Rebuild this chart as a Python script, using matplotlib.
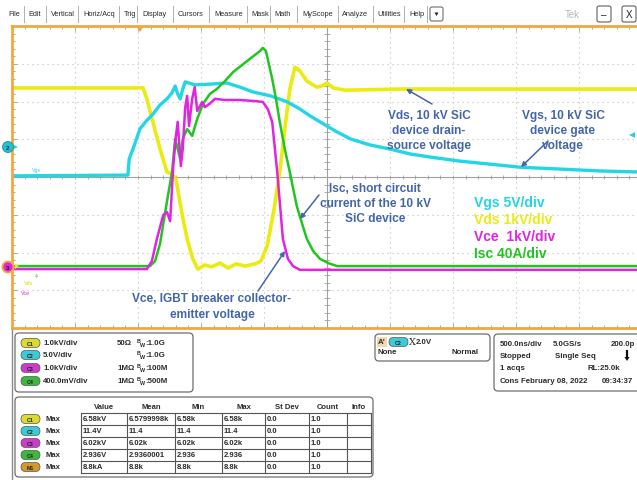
import matplotlib
matplotlib.use("Agg")
import numpy as np
import matplotlib.pyplot as plt
from matplotlib.patches import FancyBboxPatch, Circle, Polygon, Rectangle

plt.rcParams["font.family"] = ["Liberation Sans", "DejaVu Sans"]

# Waveforms in screen divisions: x 0..10 (500 ns/div), y -4..4
vds_x = [0.00, 2.08, 2.14, 2.35, 2.46, 2.54, 2.60, 2.70, 2.78, 2.87, 2.95, 3.06, 3.17,
         3.30, 3.43, 3.56, 3.70, 3.86, 3.95, 4.05, 4.16, 4.25, 4.35, 4.41, 4.49, 4.57,
         4.68, 4.84, 4.92, 5.00, 5.10, 5.29, 6.16, 10.0]
vds_y = [2.36, 2.36, 2.07, 0.74, 0.13, 0.08, -0.05, -0.98, -1.64, -2.17, -2.44, -2.33,
         -2.38, -2.28, -2.41, -2.30, -2.36, -2.30, -2.23, -1.83, -0.85, 0.13, 1.54, 2.33,
         2.91, 2.81, 2.54, 2.38, 2.41, 2.49, 2.36, 2.30, 2.33, 2.33]

vgs_x = [0.00, 1.84, 1.86, 1.92, 2.03, 2.13, 2.24, 2.35, 2.46, 2.54, 2.59, 2.63, 2.67,
         2.71, 2.75, 2.90, 3.14, 3.41, 3.62, 3.83, 4.10, 4.37, 4.57, 4.73, 4.89, 5.13,
         5.37, 5.68, 6.00, 6.32, 6.63, 7.11, 7.59, 8.06, 8.70, 9.33, 10.0]
vgs_y = [0.03, 0.05, 0.48, 0.74, 1.27, 1.48, 1.67, 1.91, 2.07, 2.23, 2.41, 2.20, 2.07,
         2.33, 2.52, 2.44, 2.46, 2.49, 2.38, 2.25, 2.15, 1.99, 1.80, 1.62, 1.46, 1.22,
         1.01, 0.85, 0.74, 0.61, 0.53, 0.42, 0.34, 0.26, 0.21, 0.16, 0.13]

vce_x = [0.00, 2.14, 2.22, 2.30, 2.40, 2.46, 2.51, 2.56, 2.60, 2.63, 2.68, 2.71, 2.75,
         2.78, 2.81, 2.86, 2.90, 2.94, 3.02, 3.06, 3.13, 3.22, 3.38, 3.62, 3.86, 3.98,
         4.06, 4.13, 4.21, 4.30, 4.38, 4.46, 4.57, 4.89, 10.0]
vce_y = [-2.44, -2.44, -2.23, -1.64, -1.01, -0.93, -1.17, 0.29, 1.06, 1.46, 0.29, 0.74,
         1.85, 2.15, 1.35, 2.07, 2.38, 1.75, 1.99, 1.85, 1.93, 2.07, 2.04, 2.04, 2.01,
         1.99, 1.80, 1.46, 0.13, -1.64, -2.17, -2.36, -2.46, -2.46, -2.46]

isc_x = [0.00, 2.19, 2.27, 2.35, 2.40, 2.48, 2.54, 2.59, 2.63, 2.67, 2.71, 2.78, 2.86,
         2.94, 3.03, 3.14, 3.25, 3.38, 3.51, 3.67, 3.83, 3.94, 3.98, 4.03, 4.13, 4.19,
         4.25, 4.33, 4.41, 4.52, 4.62, 4.68, 4.78, 4.89, 5.02, 5.16, 10.0]
isc_y = [-2.36, -2.36, -2.23, -1.77, -1.25, -0.45, 0.13, 1.01, 0.74, 0.48, 1.01, 1.27,
         1.09, 1.54, 1.93, 2.20, 2.33, 2.54, 2.78, 2.99, 3.20, 3.34, 3.42, 3.34, 2.60,
         2.07, 1.46, 0.74, 0.13, -0.77, -1.32, -1.64, -1.96, -2.17, -2.28, -2.36, -2.36]

legend_labels = ["Vgs 5V/div", "Vds 1kV/div", "Vce  1kV/div", "Isc 40A/div"]

menu_items = ["File", "Edit", "Vertical", "Horiz/Acq", "Trig", "Display", "Cursors",
              "Measure", "Mask", "Math", "MyScope", "Analyze", "Utilities", "Help"]

ch_names = ["C1", "C2", "C3", "C4"]
ch_scale = ["1.0kV/div", "5.0V/div", "1.0kV/div", "400.0mV/div"]
ch_imped = ["50Ω", "", "1MΩ", "1MΩ"]
ch_bw = ["1.0G", "1.0G", "100M", "500M"]

meas_src = ["C1", "C2", "C3", "C4", "M1"]
meas_cols = ["Value", "Mean", "Min", "Max", "St Dev", "Count", "Info"]
meas_value = ["6.58kV", "11.4V", "6.02kV", "2.936V", "8.8kA"]
meas_mean = ["6.5799998k", "11.4", "6.02k", "2.9360001", "8.8k"]
meas_min = ["6.58k", "11.4", "6.02k", "2.936", "8.8k"]
meas_max = ["6.58k", "11.4", "6.02k", "2.936", "8.8k"]
meas_std = ["0.0", "0.0", "0.0", "0.0", "0.0"]
meas_count = ["1.0", "1.0", "1.0", "1.0", "1.0"]

YEL = "#EBEB12"
CYA = "#22D6E6"
MAG = "#E024E0"
GRN = "#22C422"
ORG = "#F2A645"
NOTE = "#4466A8"
TXT = "#2b2b2b"
badge_col = {"C1": "#DADA30", "C2": "#3CCAD6", "C3": "#CC3CCC",
             "C4": "#3CB83C", "M1": "#D29A2A"}

fig = plt.figure(figsize=(6.37, 4.81), dpi=100)
fig.patch.set_facecolor("white")

# --- scope graticule ---
ax = fig.add_axes([12 / 637, (481 - 329) / 481, 630 / 637, 302 / 481])
ax.set_xlim(0, 10)
ax.set_ylim(-4, 4)
for s in ax.spines.values():
    s.set_color(ORG)
    s.set_linewidth(2)
ax.set_xticks(np.arange(0, 10.01, 1))
ax.set_yticks(np.arange(-4, 4.01, 1))
ax.set_xticks(np.arange(0, 10.01, 0.2), minor=True)
ax.set_yticks(np.arange(-4, 4.01, 0.2), minor=True)
ax.tick_params(which="both", direction="in", top=True, right=True,
               labelbottom=False, labelleft=False, color="#9a9a9a", width=0.6)
ax.tick_params(which="major", length=3.5)
ax.tick_params(which="minor", length=2)

for i in range(1, 10):
    if i != 5:
        ax.axvline(i, color="#bcbcbc", lw=0.8, ls=(0, (1, 3.5)))
for j in range(-3, 4):
    if j != 0:
        ax.axhline(j, color="#bcbcbc", lw=0.8, ls=(0, (1, 3.5)))
ax.axhline(0, color="#a0a0a0", lw=0.8)
ax.axvline(5, color="#a0a0a0", lw=0.8)
ax.vlines(np.arange(0, 10.01, 0.2), -0.06, 0.06, color="#a0a0a0", lw=0.6)
ax.hlines(np.arange(-4, 4.01, 0.2), 4.95, 5.05, color="#a0a0a0", lw=0.6)

ax.plot(vds_x, vds_y, color=YEL, lw=2.6, solid_joinstyle="round")
ax.plot(vgs_x, vgs_y, color=CYA, lw=2.4, solid_joinstyle="round")
ax.plot(isc_x, isc_y, color=GRN, lw=1.8, solid_joinstyle="round")
ax.plot(vce_x, vce_y, color=MAG, lw=1.8, solid_joinstyle="round")

# --- overlay in pixel coordinates for the UI and notes ---
ov = fig.add_axes([0, 0, 1, 1], zorder=5)
ov.set_xlim(0, 637)
ov.set_ylim(481, 0)
ov.axis("off")
ov.patch.set_alpha(0)

# menu bar
starts = [8, 28.5, 51, 83, 124, 142, 178, 214, 251, 274, 302, 342, 377, 409]
seps = [24, 46, 78, 119, 137, 173, 209, 247, 270, 297, 338, 373, 404, 427]
for name, x in zip(menu_items, starts):
    ov.text(x, 15, name, fontsize=5.3, color=TXT, va="center", ha="left")
for x in seps:
    ov.plot([x, x], [7, 23], color="#b0b0b0", lw=0.7)
ov.add_patch(FancyBboxPatch((430, 8), 13, 14, boxstyle="round,pad=0,rounding_size=2",
                            fc="white", ec="#707070", lw=0.8))
ov.add_patch(Polygon([(434.5, 13.5), (438.5, 13.5), (436.5, 17)], closed=True, fc="#222"))
ov.text(565, 15, "Tek", fontsize=7, color="#b8b8b8", va="center", ha="left")
for bx, sym in [(597, "–"), (622, "X")]:
    ov.add_patch(FancyBboxPatch((bx, 7), 14, 16, boxstyle="round,pad=0,rounding_size=2",
                                fc="white", ec="#606060", lw=0.8))
    ov.text(bx + 7, 15.5, sym, fontsize=7, color="#222", ha="center", va="center")

# trigger position and level markers
ov.add_patch(Polygon([(136, 27), (144, 27), (140, 33)], closed=True, fc=ORG))
ov.add_patch(Polygon([(629, 136), (635, 133), (635, 139)], closed=True, fc=CYA))

# channel ground markers on the left edge
ov.add_patch(Circle((8, 148), 5.5, fc="#2bbcd0", ec="#1a8fa0", lw=0.6))
ov.text(8, 148.5, "2", fontsize=4.5, color="#0d3a44", ha="center", va="center",
        weight="bold")
ov.add_patch(Polygon([(14, 146), (18, 148), (14, 150)], closed=True, fc=CYA))
ov.add_patch(Circle((8, 268), 6.5, fc=ORG, ec="none"))
ov.add_patch(Circle((8, 268), 4.6, fc=MAG, ec="none"))
ov.text(8, 268.5, "3", fontsize=4.5, color="#2a0a2a", ha="center", va="center",
        weight="bold")
ov.add_patch(Polygon([(15, 265), (19, 267), (15, 270)], closed=True, fc=YEL))
ov.text(32, 171, "Vgs", fontsize=3.8, color=CYA, ha="left", va="center")
ov.text(24, 284, "Vds", fontsize=3.8, color="#d8d800", ha="left", va="center")
ov.text(21, 294, "Vce", fontsize=3.8, color=MAG, ha="left", va="center")
ov.text(35, 277, "4", fontsize=3.8, color=GRN, ha="left", va="center")

# notes with arrows
note_kw = dict(fontsize=8.6, color=NOTE, weight="bold", ha="center", va="center",
               linespacing=1.36)
arrow_kw = dict(arrowstyle="-|>", color=NOTE, lw=1.1, mutation_scale=7,
                shrinkA=0, shrinkB=0)
ov.text(429, 131, "Vds, 10 kV SiC\ndevice drain-\nsource voltage", **note_kw)
ov.annotate("", xy=(406, 90), xytext=(432, 105), arrowprops=arrow_kw)
ov.text(563, 131, "Vgs, 10 kV SiC\ndevice gate\nvoltage", **note_kw)
ov.annotate("", xy=(521, 168), xytext=(548, 142), arrowprops=arrow_kw)
ov.text(375, 204, "Isc, short circuit\ncurrent of the 10 kV\nSiC device", **note_kw)
ov.annotate("", xy=(300, 220), xytext=(319, 196), arrowprops=arrow_kw)
ov.text(212, 307, "Vce, IGBT breaker collector-\nemitter voltage", **note_kw)
ov.annotate("", xy=(285, 252), xytext=(258, 292), arrowprops=arrow_kw)

for lab, col, y in zip(legend_labels, [CYA, YEL, MAG, GRN], [203, 220, 237, 254]):
    ov.text(474, y, lab, fontsize=10, color=col, weight="bold", ha="left",
            va="center")

# --- readout panels ---
ov.plot([12, 12], [331, 481], color="#8a8a8a", lw=1)

def panel(x0, y0, x1, y1):
    ov.add_patch(FancyBboxPatch((x0, y0), x1 - x0, y1 - y0,
                                boxstyle="round,pad=0,rounding_size=4",
                                fc="white", ec="#6e6e6e", lw=0.9))

def badge(x, y, name):
    ov.add_patch(FancyBboxPatch((x, y - 4.5), 19, 9, boxstyle="round,pad=0,rounding_size=4.5",
                                fc=badge_col[name], ec="#555", lw=0.5))
    ov.text(x + 9.5, y + 0.3, name, fontsize=3.8, color="#222", ha="center",
            va="center", weight="bold")

pkw = dict(fontsize=5.7, color=TXT, weight="bold", va="center")
tkw = dict(fontsize=5.5, color=TXT, weight="bold", va="center")

panel(15, 334, 193, 393)
for name, sc, imp, bw, y in zip(ch_names, ch_scale, ch_imped, ch_bw, [344, 356, 369, 382]):
    badge(21, y, name)
    ov.text(43, y, sc, ha="left", **pkw)
    if imp:
        ov.text(117, y, imp, ha="left", **pkw)
    ov.text(137, y - 2, "B", ha="left", fontsize=3.9, color=TXT, weight="bold", va="center")
    ov.text(140, y + 1.5, "W", ha="left", fontsize=3.9, color=TXT, weight="bold", va="center")
    ov.text(145, y, ":" + bw, ha="left", **pkw)

panel(375, 335, 490, 362)
ov.add_patch(Rectangle((377, 338), 10, 10, fc="#f3d9b0", ec="none"))
ov.text(378, 343, "A'", ha="left", **pkw)
badge(389, 343, "C2")
ov.text(409, 343, "X", ha="left", fontsize=7, color=TXT, va="center", family="DejaVu Serif")
ov.text(416, 342.5, "2.0V", ha="left", **pkw)
ov.text(378, 353, "None", ha="left", **pkw)
ov.text(479, 353, "Normal", ha="right", **pkw)

panel(494, 335, 650, 392)
ov.text(500, 345, "500.0ns/div", ha="left", **pkw)
ov.text(553, 345, "5.0GS/s", ha="left", **pkw)
ov.text(611, 345, "200.0p", ha="left", **pkw)
ov.text(500, 357, "Stopped", ha="left", **pkw)
ov.text(555, 357, "Single Seq", ha="left", **pkw)
ov.plot([627, 627], [352, 359], color="#111", lw=1.6)
ov.add_patch(Polygon([(624.5, 358), (629.5, 358), (627, 362)], closed=True, fc="#111"))
ov.text(500, 369, "1 acqs", ha="left", **pkw)
ov.text(620, 369, "RL:25.0k", ha="right", **pkw)
ov.text(500, 382, "Cons", ha="left", **pkw)
ov.text(521, 382, "February 08, 2022", ha="left", **pkw)
ov.text(602, 382, "09:34:37", ha="left", **pkw)

# measurement table
panel(15, 398, 373, 478)
col_edges = [81, 127, 175, 222, 265, 309, 347, 371]
row_edges = [414, 426, 438, 450, 462, 474]
for c, x0, x1 in zip(meas_cols, col_edges[:-1], col_edges[1:]):
    ov.text((x0 + x1) / 2, 408, c, ha="center", **tkw)
for x in col_edges:
    ov.plot([x, x], [row_edges[0], row_edges[-1]], color="#555", lw=0.8)
for y in row_edges:
    ov.plot([col_edges[0], col_edges[-1]], [y, y], color="#555", lw=0.8)
columns = [meas_value, meas_mean, meas_min, meas_max, meas_std, meas_count]
for r, src in enumerate(meas_src):
    yc = (row_edges[r] + row_edges[r + 1]) / 2
    badge(21, yc, src)
    ov.text(45, yc, "Max", ha="left", **tkw)
    for c, col in enumerate(columns):
        ov.text(col_edges[c] + 2, yc, col[r], ha="left", **tkw)

fig.savefig("out.png", dpi=100, facecolor="white")
